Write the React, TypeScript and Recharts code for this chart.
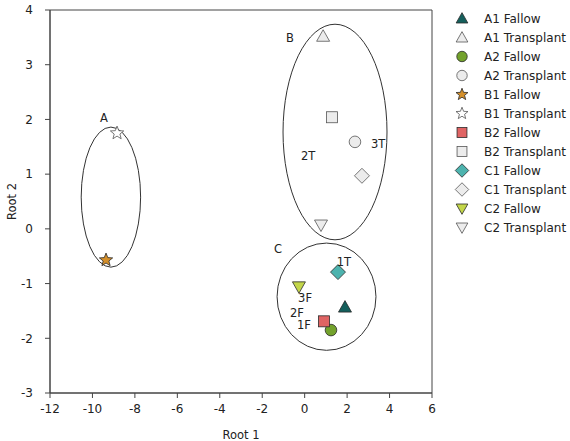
import React from 'react';
import { ScatterChart, Scatter, XAxis, YAxis, ReferenceArea } from 'recharts';

// Discriminant scores per treatment group
const groupNames = [
  'A1 Fallow', 'A1 Transplant', 'A2 Fallow', 'A2 Transplant',
  'B1 Fallow', 'B1 Transplant', 'B2 Fallow', 'B2 Transplant',
  'C1 Fallow', 'C1 Transplant', 'C2 Fallow', 'C2 Transplant',
];
const root1Scores = [1.9, 0.87, 1.24, 2.37, -9.36, -8.84, 0.91, 1.29, 1.57, 2.7, -0.27, 0.77];
const root2Scores = [-1.43, 3.52, -1.85, 1.59, -0.57, 1.75, -1.69, 2.04, -0.79, 0.97, -1.06, 0.07];
const markerKinds = [
  'triangle', 'triangle', 'circle', 'circle', 'star', 'star',
  'square', 'square', 'diamond', 'diamond', 'triangleDown', 'triangleDown',
];
const markerFills = [
  '#145f5c', '#ececec', '#73a22c', '#ececec', '#d48f2a', '#ffffff',
  '#e06464', '#ececec', '#4db3ae', '#ececec', '#c3d649', '#ececec',
];

// Cluster ellipses: centre and radii in score units
const clusterNames = ['A', 'B', 'C'];
const clusterCx = [-9.13, 1.43, 1.03];
const clusterCy = [0.58, 1.77, -1.24];
const clusterRx = [1.4, 2.45, 2.33];
const clusterRy = [1.28, 1.97, 0.98];

// Annotation labels
const noteTexts = ['A', 'B', 'C', '1T', '2T', '3T', '3F', '2F', '1F'];
const noteX = [-9.46, -0.69, -1.26, 1.85, 0.16, 3.46, 0.02, -0.36, -0.03];
const noteY = [2.03, 3.49, -0.37, -0.61, 1.33, 1.55, -1.27, -1.54, -1.76];

const xTicks = [-12, -10, -8, -6, -4, -2, 0, 2, 4, 6];
const yTicks = [-3, -2, -1, 0, 1, 2, 3, 4];

const FONT = 'DejaVu Sans, sans-serif';
const TEXT = '#222';

function starPoints(cx: number, cy: number, ro: number, ri: number) {
  const pts: string[] = [];
  for (let i = 0; i < 10; i++) {
    const r = i % 2 === 0 ? ro : ri;
    const a = -Math.PI / 2 + (i * Math.PI) / 5;
    pts.push(`${cx + r * Math.cos(a)},${cy + r * Math.sin(a)}`);
  }
  return pts.join(' ');
}

function Marker({ kind, cx, cy, fill, k = 1 }: { kind: string; cx: number; cy: number; fill: string; k?: number }) {
  const stroke = fill === '#ececec' || fill === '#ffffff' ? '#555' : '#2a2a2a';
  const sw = 0.8;
  switch (kind) {
    case 'triangle':
      return <polygon points={`${cx},${cy - 6.5 * k} ${cx - 6.5 * k},${cy + 5 * k} ${cx + 6.5 * k},${cy + 5 * k}`} fill={fill} stroke={stroke} strokeWidth={sw} />;
    case 'triangleDown':
      return <polygon points={`${cx},${cy + 6.5 * k} ${cx - 6.5 * k},${cy - 5 * k} ${cx + 6.5 * k},${cy - 5 * k}`} fill={fill} stroke={stroke} strokeWidth={sw} />;
    case 'circle':
      return <circle cx={cx} cy={cy} r={5.8 * k} fill={fill} stroke={stroke} strokeWidth={sw} />;
    case 'star':
      return <polygon points={starPoints(cx, cy, 7 * k, 3 * k)} fill={fill} stroke={stroke} strokeWidth={sw} />;
    case 'square':
      return <rect x={cx - 5.5 * k} y={cy - 5.5 * k} width={11 * k} height={11 * k} fill={fill} stroke={stroke} strokeWidth={sw} />;
    case 'diamond':
      return <polygon points={`${cx},${cy - 7.5 * k} ${cx + 7.5 * k},${cy} ${cx},${cy + 7.5 * k} ${cx - 7.5 * k},${cy}`} fill={fill} stroke={stroke} strokeWidth={sw} />;
    default:
      return null;
  }
}

const noteData = noteTexts.map((t, i) => ({ x: noteX[i], y: noteY[i], t }));

export default function App() {
  return (
    <div style={{ position: 'absolute', left: 0, top: 0, width: 570, height: 441, fontFamily: FONT, background: '#fff' }}>
      <ScatterChart width={570} height={441} margin={{ top: 10, right: 138, bottom: 0, left: 0 }}>
        <XAxis
          type="number"
          dataKey="x"
          domain={[-12, 6]}
          ticks={xTicks}
          height={48}
          stroke="#444"
          tickSize={5}
          tickMargin={6}
          tick={{ fill: TEXT, fontSize: 12, fontFamily: FONT }}
          label={{ value: 'Root 1', position: 'insideBottom', offset: 2, fill: TEXT, fontSize: 11.5, fontFamily: FONT }}
        />
        <YAxis
          type="number"
          dataKey="y"
          domain={[-3, 4]}
          ticks={yTicks}
          width={50}
          stroke="#444"
          tickSize={5}
          tickMargin={12}
          tick={{ fill: TEXT, fontSize: 12, fontFamily: FONT }}
          label={{
            content: (p: any) => {
              const vb = p.viewBox || {};
              const cy = (vb.y || 0) + (vb.height || 0) / 2;
              return (
                <text x={12} y={cy} transform={`rotate(-90, 12, ${cy})`} textAnchor="middle" dominantBaseline="central" fill={TEXT} fontSize={11.5} fontFamily={FONT}>
                  Root 2
                </text>
              );
            },
          }}
        />
        <ReferenceArea x1={-12} x2={6} y1={-3} y2={4} fill="none" stroke="#444" strokeWidth={1} ifOverflow="visible" />
        {clusterNames.map((n, i) => (
          <ReferenceArea
            key={n}
            x1={clusterCx[i] - clusterRx[i]}
            x2={clusterCx[i] + clusterRx[i]}
            y1={clusterCy[i] - clusterRy[i]}
            y2={clusterCy[i] + clusterRy[i]}
            ifOverflow="visible"
            shape={(p: any) => (
              <ellipse
                cx={p.x + p.width / 2}
                cy={p.y + p.height / 2}
                rx={Math.abs(p.width) / 2}
                ry={Math.abs(p.height) / 2}
                fill="none"
                stroke="#333"
                strokeWidth={1}
              />
            )}
          />
        ))}
        {groupNames.map((g, i) => (
          <Scatter
            key={g}
            name={g}
            data={[{ x: root1Scores[i], y: root2Scores[i] }]}
            isAnimationActive={false}
            shape={(p: any) => <Marker kind={markerKinds[i]} cx={p.cx} cy={p.cy} fill={markerFills[i]} />}
          />
        ))}
        <Scatter
          name="notes"
          data={noteData}
          isAnimationActive={false}
          shape={(p: any) => (
            <text x={p.cx} y={p.cy} textAnchor="middle" dominantBaseline="central" fill={TEXT} fontSize={11.5} fontFamily={FONT}>
              {p.payload.t}
            </text>
          )}
        />
      </ScatterChart>
      <div style={{ position: 'absolute', left: 452, top: 9 }}>
        {groupNames.map((g, i) => (
          <div key={g} style={{ display: 'flex', alignItems: 'center', height: 19 }}>
            <svg width={20} height={19} style={{ display: 'block' }}>
              <Marker kind={markerKinds[i]} cx={10} cy={9.5} fill={markerFills[i]} k={0.9} />
            </svg>
            <span style={{ marginLeft: 12, fontSize: 12, color: TEXT, fontFamily: FONT, whiteSpace: 'nowrap' }}>{g}</span>
          </div>
        ))}
      </div>
    </div>
  );
}
